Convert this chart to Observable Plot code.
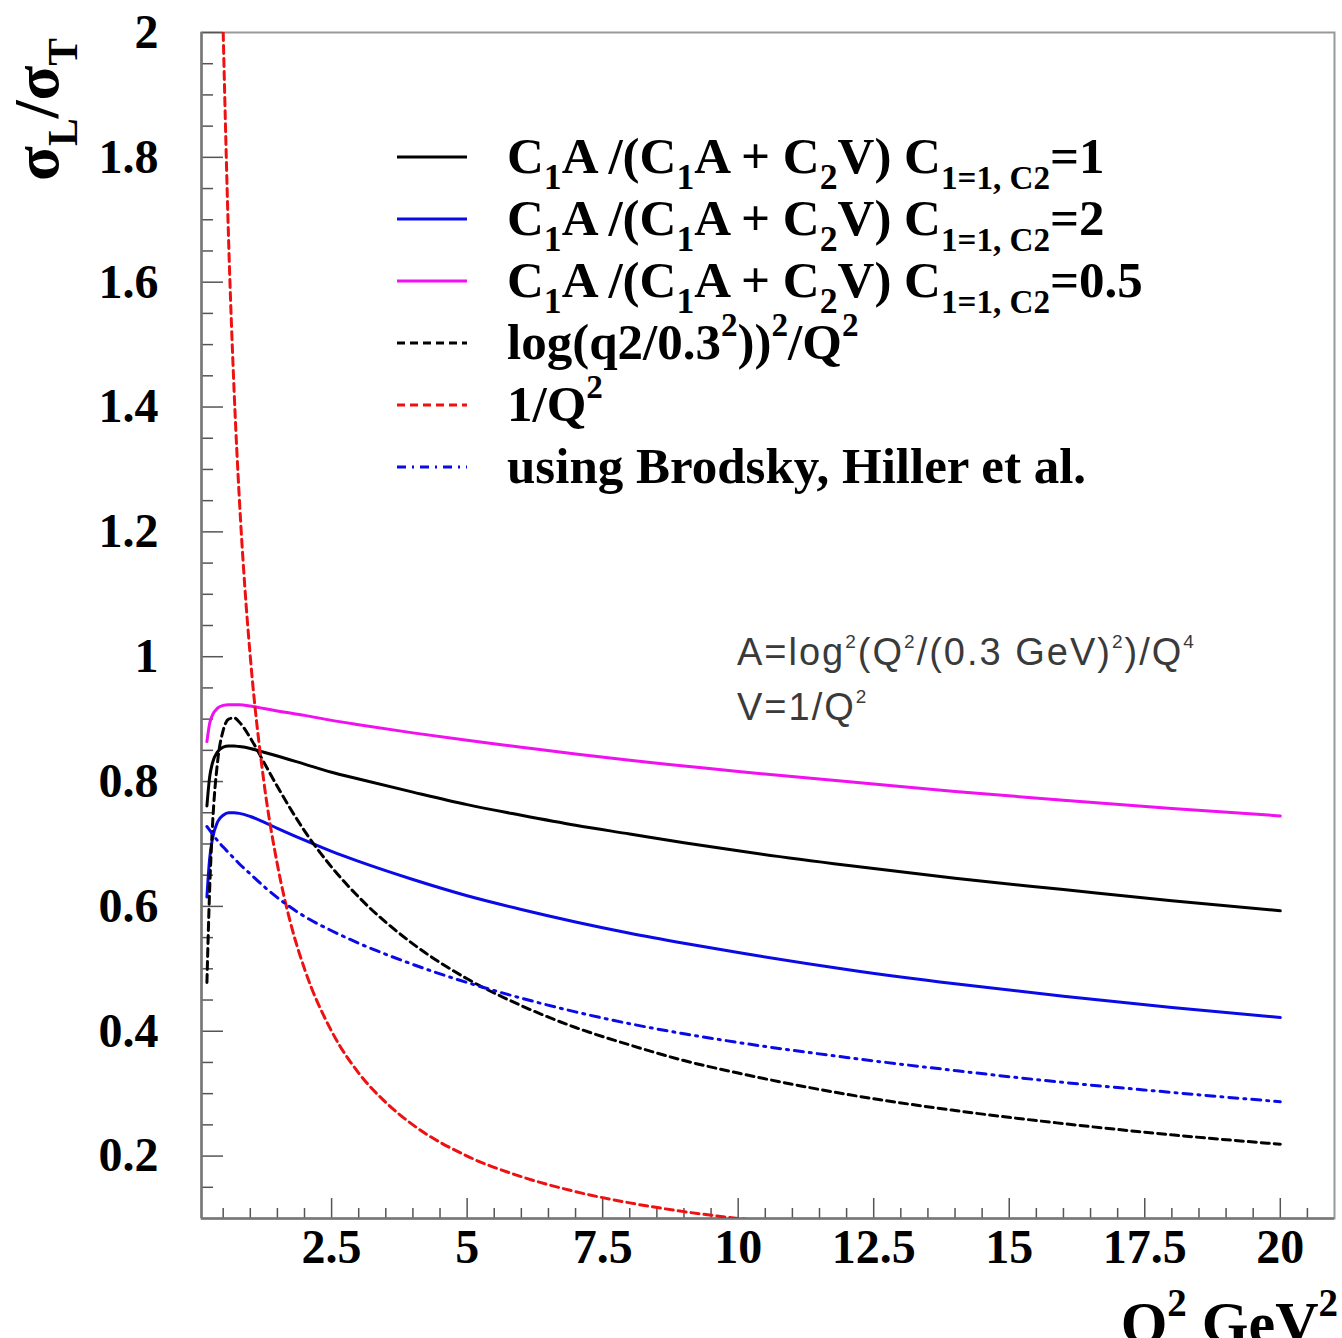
<!DOCTYPE html>
<html>
<head>
<meta charset="utf-8">
<script src="https://cdn.jsdelivr.net/npm/d3@7"></script>
<script src="https://cdn.jsdelivr.net/npm/@observablehq/plot@0.6"></script>
<style>
  html, body { margin: 0; padding: 0; background: #fff; overflow: hidden; }
  #chart { width: 1342px; height: 1338px; }
</style>
</head>
<body>
<div id="chart"></div>
<script>
// ---------- data ----------
const q2 = [0.2, 0.25, 0.3, 0.4, 0.5, 0.6, 0.7, 0.8, 1, 1.25, 1.5, 2, 2.5, 3, 4, 5, 6, 7, 8, 9, 10, 12, 14, 16, 18, 20];
const ratioC2one  = [0.761, 0.807, 0.829, 0.848, 0.855, 0.857, 0.857, 0.856, 0.853, 0.847, 0.841, 0.828, 0.815, 0.804, 0.783, 0.763, 0.746, 0.730, 0.716, 0.702, 0.689, 0.666, 0.645, 0.627, 0.609, 0.593];
const ratioC2two  = [0.615, 0.676, 0.707, 0.736, 0.746, 0.750, 0.750, 0.749, 0.744, 0.735, 0.725, 0.706, 0.688, 0.672, 0.643, 0.617, 0.595, 0.575, 0.557, 0.541, 0.526, 0.499, 0.476, 0.456, 0.438, 0.422];
const ratioC2half = [0.864, 0.893, 0.906, 0.918, 0.922, 0.923, 0.923, 0.923, 0.921, 0.917, 0.913, 0.906, 0.898, 0.891, 0.878, 0.866, 0.855, 0.844, 0.834, 0.825, 0.816, 0.800, 0.784, 0.770, 0.757, 0.745];
const logSqOverQ2 = [0.478, 0.626, 0.725, 0.834, 0.882, 0.900, 0.902, 0.895, 0.870, 0.831, 0.792, 0.721, 0.663, 0.615, 0.540, 0.484, 0.441, 0.406, 0.378, 0.353, 0.333, 0.299, 0.273, 0.252, 0.234, 0.219];
const brodsky     = [0.728, 0.722, 0.716, 0.705, 0.695, 0.686, 0.677, 0.668, 0.652, 0.632, 0.614, 0.584, 0.561, 0.541, 0.507, 0.478, 0.453, 0.431, 0.412, 0.396, 0.382, 0.358, 0.337, 0.318, 0.302, 0.287];
const q2Inv  = [0.5, 0.6, 0.7, 0.8, 0.9, 1, 1.25, 1.5, 1.75, 2, 2.5, 3, 3.5, 4, 5, 6, 7, 8, 9, 10, 11];
const invQ2  = [2.0, 1.667, 1.429, 1.25, 1.111, 1.0, 0.8, 0.667, 0.571, 0.5, 0.4, 0.333, 0.286, 0.25, 0.2, 0.167, 0.143, 0.125, 0.111, 0.1, 0.091];

const xTicks = [2.5, 5, 7.5, 10, 12.5, 15, 17.5, 20];
const xTickLabels = ["2.5", "5", "7.5", "10", "12.5", "15", "17.5", "20"];
const yTicks = [0.2, 0.4, 0.6, 0.8, 1, 1.2, 1.4, 1.6, 1.8, 2];
const yTickLabels = ["0.2", "0.4", "0.6", "0.8", "1", "1.2", "1.4", "1.6", "1.8", "2"];

// ---------- layout ----------
const W = 1342, H = 1338;
const mL = 201, mR = 8, mT = 32, mB = 120;
const innerW = W - mL - mR, innerH = H - mT - mB;
const serif = "'Liberation Serif','Times New Roman',serif";
const sans = "'Liberation Sans',Arial,sans-serif";

const xMinor = d3.range(0.5, 21, 0.5).filter(v => Math.abs(v / 2.5 - Math.round(v / 2.5)) > 1e-6);
const yMinor = d3.range(3, 40).map(i => i * 0.05).filter(v => Math.abs(v / 0.2 - Math.round(v / 0.2)) > 1e-6);

const rows = (xs, ys) => xs.map((x, i) => ({q2: x, r: ys[i]}));

const series = [
  {data: rows(q2, ratioC2one),  stroke: "#000000", dash: null},
  {data: rows(q2, ratioC2two),  stroke: "#0a0ae6", dash: null},
  {data: rows(q2, ratioC2half), stroke: "#f010f0", dash: null},
  {data: rows(q2, logSqOverQ2), stroke: "#000000", dash: "8,5"},
  {data: rows(q2Inv, invQ2),    stroke: "#ee1111", dash: "8,5"},
  {data: rows(q2, brodsky),     stroke: "#0a0ae6", dash: "9,6,2,6"}
];

const tickStroke = "#555";
const plot = Plot.plot({
  width: W, height: H,
  marginLeft: mL, marginRight: mR, marginTop: mT, marginBottom: mB,
  style: {fontFamily: serif, background: "#fff", color: "#000"},
  x: {domain: [0.1, 21]},
  y: {domain: [0.1, 2]},
  marks: [
    Plot.axisX(xTicks, {tickSize: 0, tickPadding: 10, fontSize: 48, fontWeight: "bold", label: null,
      tickFormat: d => xTickLabels[xTicks.indexOf(d)]}),
    Plot.axisY(yTicks, {tickSize: 0, tickPadding: 43, fontSize: 48, fontWeight: "bold", label: null,
      tickFormat: d => yTickLabels[yTicks.indexOf(d)]}),
    Plot.frame({stroke: "#999", strokeWidth: 2}),
    Plot.tickX(xMinor, {x: d => d, insetTop: innerH - 10, stroke: tickStroke, strokeWidth: 1.5}),
    Plot.tickX(xTicks, {x: d => d, insetTop: innerH - 20, stroke: tickStroke, strokeWidth: 1.5}),
    Plot.tickY(yMinor, {y: d => d, insetRight: innerW - 12, stroke: tickStroke, strokeWidth: 1.5}),
    Plot.tickY(yTicks, {y: d => d, insetRight: innerW - 22, stroke: tickStroke, strokeWidth: 1.5}),
    Plot.ruleX([0.1], {stroke: "#777", strokeWidth: 2.5}),
    Plot.ruleY([0.1], {stroke: "#777", strokeWidth: 2.5}),
    ...series.map(s => Plot.line(s.data, {
      x: "q2", y: "r", stroke: s.stroke, strokeWidth: 3,
      strokeDasharray: s.dash || undefined, curve: "monotone-x", clip: true
    }))
  ]
});
document.getElementById("chart").appendChild(plot);

// ---------- rich text helpers ----------
function richText(sel, parts, fs, subShift = 0.3, supShift = 0.45) {
  // parts: [text, mode, scale] mode: 0 normal, -1 subscript, 1 superscript
  let cur = 0;
  parts.forEach(([t, mode, scale]) => {
    const size = mode === 0 ? fs : fs * (scale || 0.65);
    const target = mode === 0 ? 0 : (mode < 0 ? fs * subShift : -fs * supShift);
    sel.append("tspan").attr("font-size", size).attr("dy", target - cur).text(t);
    cur = target;
  });
}

const svg = d3.select(plot);

// ---------- legend ----------
const legend = [
  {stroke: "#000000", dash: null, parts: [["C",0],["1",-1,0.7],["A /(C",0],["1",-1,0.7],["A + C",0],["2",-1,0.7],["V) C",0],["1=1, C2",-1],["=1",0]]},
  {stroke: "#0a0ae6", dash: null, parts: [["C",0],["1",-1,0.7],["A /(C",0],["1",-1,0.7],["A + C",0],["2",-1,0.7],["V) C",0],["1=1, C2",-1],["=2",0]]},
  {stroke: "#f010f0", dash: null, parts: [["C",0],["1",-1,0.7],["A /(C",0],["1",-1,0.7],["A + C",0],["2",-1,0.7],["V) C",0],["1=1, C2",-1],["=0.5",0]]},
  {stroke: "#000000", dash: "8,5", parts: [["log(q2/0.3",0],["2",1],["))",0],["2",1],["/Q",0],["2",1]]},
  {stroke: "#ee1111", dash: "8,5", parts: [["1/Q",0],["2",1]]},
  {stroke: "#0a0ae6", dash: "9,6,2,6", parts: [["using Brodsky, Hiller et al.",0]]}
];
const lg = svg.append("g").attr("font-family", serif).attr("font-weight", "bold").attr("text-anchor", "start");
legend.forEach((it, i) => {
  const y = 157 + i * 62;
  lg.append("line").attr("x1", 397).attr("x2", 467).attr("y1", y).attr("y2", y)
    .attr("stroke", it.stroke).attr("stroke-width", 3)
    .attr("stroke-dasharray", it.dash);
  const t = lg.append("text").attr("x", 507).attr("y", y + 16).attr("fill", "#000");
  richText(t, it.parts, 51, 0.32, 0.45);
});

// ---------- annotation ----------
const an = svg.append("g").attr("font-family", sans).attr("fill", "#3a3a3a")
  .attr("letter-spacing", "2px").attr("text-anchor", "start");
richText(an.append("text").attr("x", 737).attr("y", 665),
  [["A=log",0],["2",1,0.5],["(Q",0],["2",1,0.5],["/(0.3 GeV)",0],["2",1,0.5],[")/Q",0],["4",1,0.5]], 38);
richText(an.append("text").attr("x", 737).attr("y", 720),
  [["V=1/Q",0],["2",1,0.5]], 38);

// ---------- axis titles ----------
richText(svg.append("text").attr("x", 1338).attr("y", 1343).attr("text-anchor", "end")
  .attr("font-family", serif).attr("font-weight", "bold").attr("fill", "#000"),
  [["Q",0],["2",1],[" GeV",0],["2",1]], 60);

richText(svg.append("text").attr("transform", "translate(58,38) rotate(-90)").attr("text-anchor", "end")
  .attr("font-family", serif).attr("font-weight", "bold").attr("fill", "#000"),
  [["σ",0],["L",-1],["/σ",0],["T",-1]], 64);
</script>
</body>
</html>
